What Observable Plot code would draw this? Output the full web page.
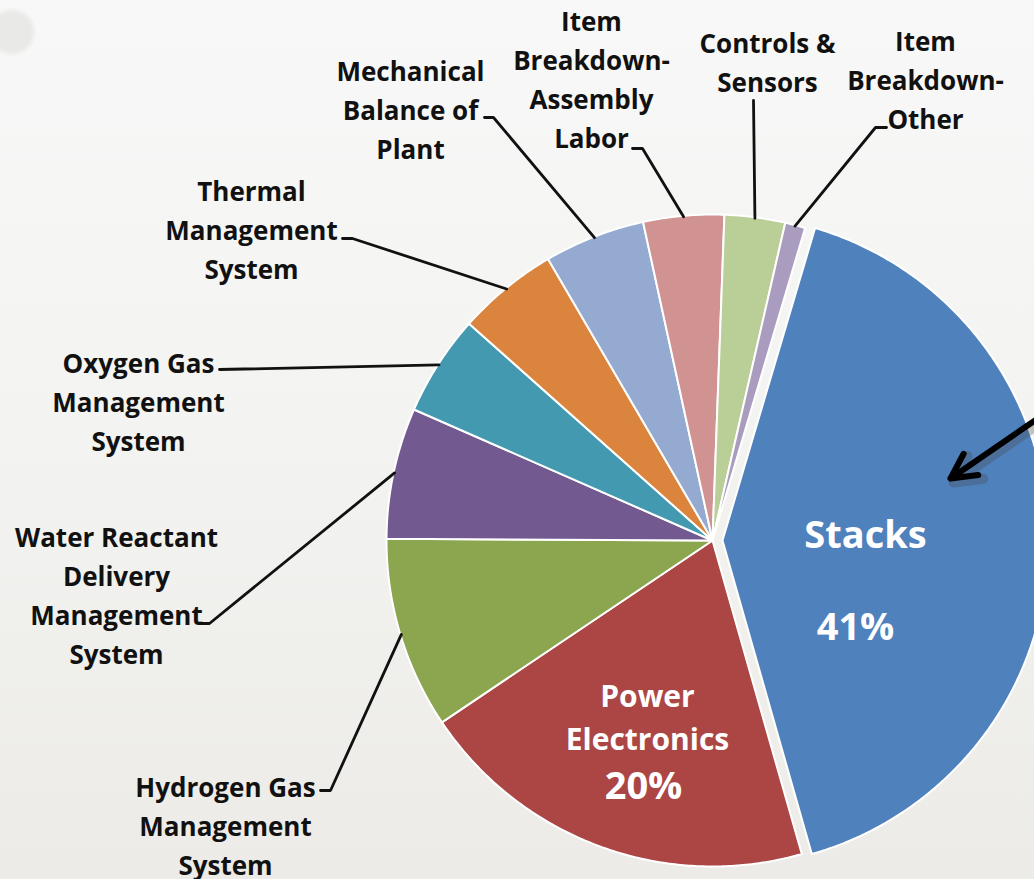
<!DOCTYPE html>
<html><head><meta charset="utf-8">
<script src="https://cdn.jsdelivr.net/npm/d3@7"></script>
<script src="https://cdn.jsdelivr.net/npm/@observablehq/plot@0.6"></script>
<style>
html,body{margin:0;padding:0;}
body{width:1034px;height:879px;overflow:hidden;
background: radial-gradient(circle at 12px 32px, #e9e9e7 0, #e9e9e7 19px, rgba(233,233,231,0) 25px),
            linear-gradient(180deg,#f8f8f8 0%,#f3f3f1 50%,#ecebe7 100%);}
#chart{width:1034px;height:879px;overflow:hidden;}
</style></head><body><div id="chart"></div>
<script>
// ---- data ----
const categories = [
  "Stacks",
  "Power Electronics",
  "Hydrogen Gas Management System",
  "Water Reactant Delivery Management System",
  "Oxygen Gas Management System",
  "Thermal Management System",
  "Mechanical Balance of Plant",
  "Item Breakdown-Assembly Labor",
  "Controls & Sensors",
  "Item Breakdown-Other"
];
const shares = [41, 20, 9.5, 6.5, 5, 5, 5, 4, 3, 1];
const sliceColors = ["#4F81BD", "#AB4645", "#8BA64E", "#72598F", "#4399B0", "#DB843D", "#94AAD0", "#D19392", "#BACE97", "#A99CBE"];
const labelTexts = [
  "Stacks",
  "Power\nElectronics",
  "Hydrogen Gas\nManagement\nSystem",
  "Water Reactant\nDelivery\nManagement\nSystem",
  "Oxygen Gas\nManagement\nSystem",
  "Thermal\nManagement\nSystem",
  "Mechanical\nBalance of\nPlant",
  "Item\nBreakdown-\nAssembly\nLabor",
  "Controls &\nSensors",
  "Item\nBreakdown-\nOther"
];
const pctTexts = ["41%", "20%"];

// ---- layout ----
const W = 1034, H = 879;
const L = {cx: 712, cy: 540, r: 326, explode: 10, startDeg: 16.5};
// outer label block centres and leader anchors (label side)
const outer = {
  2: {x: 225, y: 823, lead: [[320, 790], [330, 790]]},
  3: {x: 116, y: 593, lead: [[199, 623], [209, 623]]},
  4: {x: 138, y: 399, lead: [[219, 369]]},
  5: {x: 251, y: 227, lead: [[342, 238], [352, 238]]},
  6: {x: 410, y: 107, lead: [[484, 117], [493, 117]]},
  7: {x: 591, y: 77,  lead: [[632, 148], [642, 148]]},
  8: {x: 767, y: 60,  lead: [[753, 100]]},
  9: {x: 925, y: 77,  lead: [[886, 127], [875, 127]]}
};

const rows = categories.map((name, i) => ({name, share: shares[i], color: sliceColors[i], label: labelTexts[i]}));
const a0 = L.startDeg * Math.PI / 180;
const arcs = d3.pie().sort(null).value(d => d.share).startAngle(a0).endAngle(a0 + 2 * Math.PI)(rows);
const pt = (a, rad, ox = 0, oy = 0) => [L.cx + ox + rad * Math.sin(a), L.cy + oy - rad * Math.cos(a)];

const slicePts = [];
arcs.forEach((a, i) => {
  const mid = (a.startAngle + a.endAngle) / 2;
  const off = i === 0 ? L.explode : 0;
  const ox = off * Math.sin(mid), oy = -off * Math.cos(mid);
  const push = ([x, y]) => slicePts.push({name: a.data.name, color: a.data.color, x, y});
  push([L.cx + ox, L.cy + oy]);
  const n = Math.max(4, Math.ceil((a.endAngle - a.startAngle) / (Math.PI / 360)));
  for (let k = 0; k <= n; k++) push(pt(a.startAngle + (a.endAngle - a.startAngle) * k / n, L.r, ox, oy));
  push([L.cx + ox, L.cy + oy]);
});

const leaderPts = [];
const outerLabels = [];
arcs.forEach((a, i) => {
  const o = outer[i];
  if (!o) return;
  const mid = (a.startAngle + a.endAngle) / 2;
  o.lead.forEach(([x, y]) => leaderPts.push({name: a.data.name, x, y}));
  const [ex, ey] = pt(mid, L.r - 1);
  leaderPts.push({name: a.data.name, x: ex, y: ey});
  outerLabels.push({x: o.x, y: o.y, text: a.data.label});
});

const innerName = [
  {x: 865, y: 530, text: labelTexts[0], size: 38},
  {x: 647, y: 714, text: labelTexts[1], size: 30}
];
const innerPct = [
  {x: 855, y: 627, text: pctTexts[0]},
  {x: 643, y: 786, text: pctTexts[1]}
];
const arrowData = [{x1: 1046, y1: 412, x2: 950, y2: 478}];

const FONT = "'Open Sans', Lato, sans-serif";

const chart = Plot.plot({
  width: W, height: H,
  margin: 0,
  x: {domain: [0, W], range: [0, W], axis: null},
  y: {domain: [0, H], range: [0, H], axis: null},
  color: {type: "identity"},
  style: {background: "transparent", fontFamily: FONT, overflow: "hidden"},
  marks: [
    Plot.line(slicePts, {x: "x", y: "y", z: "name", fill: "color", stroke: "#ffffff", strokeWidth: 2, strokeLinejoin: "round", clip: true}),
    Plot.line(leaderPts, {x: "x", y: "y", z: "name", stroke: "#111", strokeWidth: 2.8, strokeLinejoin: "miter"}),
    Plot.text(outerLabels, {x: "x", y: "y", text: "text", fontSize: 26, fontWeight: 700, lineHeight: 1.5, fill: "#111", textAnchor: "middle", lineAnchor: "middle"}),
    Plot.text(innerName, {x: "x", y: "y", text: "text", fontSize: d => d.size, fontWeight: 700, lineHeight: 1.43, fill: "white", textAnchor: "middle", lineAnchor: "middle"}),
    Plot.text(innerPct, {x: "x", y: "y", text: "text", fontSize: 38, fontWeight: 700, fill: "white", textAnchor: "middle", lineAnchor: "middle"}),
    Plot.arrow(arrowData, {x1: d => d.x1 + 3, y1: d => d.y1 + 4, x2: d => d.x2 + 3, y2: d => d.y2 + 4, stroke: "#444", strokeOpacity: 0.3, strokeWidth: 10, headLength: 4.5, headAngle: 55, bend: 0}),
    Plot.arrow(arrowData, {x1: "x1", y1: "y1", x2: "x2", y2: "y2", stroke: "#000", strokeWidth: 6, headLength: 7, headAngle: 55, bend: 0})
  ]
});
document.getElementById("chart").append(chart);
</script>
</body></html>
